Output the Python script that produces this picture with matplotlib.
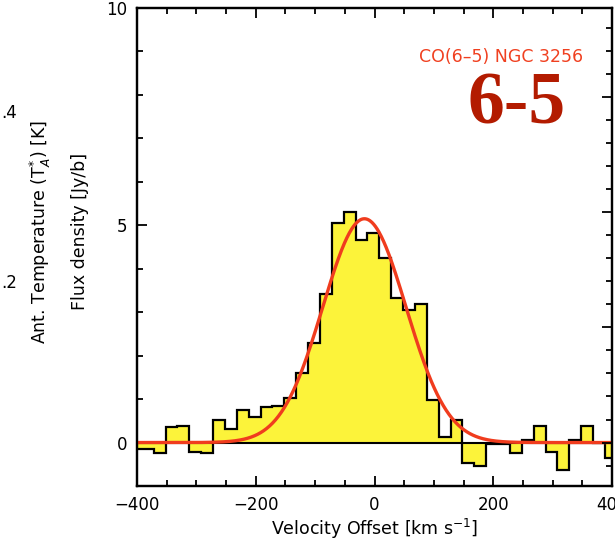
import numpy as np
import matplotlib
matplotlib.use("Agg")
import matplotlib.pyplot as plt
from matplotlib.ticker import MultipleLocator

# ---- data ----
bin_centers = np.arange(-402, 399, 20)  # km/s
flux = [-0.14, -0.14, -0.23, 0.36, 0.38, -0.22, -0.24, 0.53, 0.32, 0.76,
        0.58, 0.81, 0.85, 1.03, 1.60, 2.28, 3.41, 5.06, 5.30, 4.66,
        4.83, 4.25, 3.32, 3.04, 3.19, 0.97, 0.12, 0.52, -0.48, -0.54,
        -0.04, -0.04, -0.25, 0.07, 0.39, -0.22, -0.64, 0.07, 0.39, -0.02,
        -0.36]
fit_amp = 5.15
fit_center = -17.0
fit_sigma = 70.0
xticks = [-400, -200, 0, 200, 400]
yticks = [0, 5, 10]
line_label = "CO(6\u20135) NGC 3256"
big_label = "6-5"

edges = np.concatenate([bin_centers - 10, [bin_centers[-1] + 10]])

fig = plt.figure(figsize=(6.15, 5.42), dpi=100)
ax = fig.add_axes([137/615, 1 - 486/542, 475/615, 478/542])

ax.stairs(flux, edges, fill=True, baseline=0, color="#fcf33a", zorder=1)
ax.stairs(flux, edges, fill=False, baseline=None, color="black", lw=1.6, zorder=2)
ax.axhline(0, color="black", lw=1.5, zorder=2)

v = np.linspace(-400, 400, 800)
g = fit_amp * np.exp(-0.5 * ((v - fit_center) / fit_sigma) ** 2)
ax.plot(v, g, color="#f03c1e", lw=2.4, zorder=3)

ax.set_xlim(-400, 400)
ax.set_ylim(-1, 10)
ax.set_xticks(xticks)
ax.set_xticklabels(["\u2212400", "\u2212200", "0", "200", "400"])
ax.set_yticks(yticks)
ax.xaxis.set_minor_locator(MultipleLocator(50))
ax.yaxis.set_minor_locator(MultipleLocator(1))
ax.tick_params(which="both", direction="in", top=True, right=False, width=1.3,
               labelsize=12, pad=7)
ax.tick_params(which="major", length=7)
ax.tick_params(which="minor", length=4)
for s in ax.spines.values():
    s.set_linewidth(1.6)

# temperature axis on right
c = 0.1 / 2.65
ax2 = ax.twinx()
ax2.set_ylim(-1 * c, 10 * c)
ax2.yaxis.set_major_locator(MultipleLocator(0.1))
ax2.yaxis.set_minor_locator(MultipleLocator(0.02))
ax2.tick_params(which="both", direction="in", width=1.3, labelright=False)
ax2.tick_params(which="major", length=7)
ax2.tick_params(which="minor", length=4)
for s in ax2.spines.values():
    s.set_linewidth(1.6)

ax.set_xlabel("Velocity Offset [km s$^{-1}$]", fontsize=12.5, labelpad=2)

fig.text(80/615, 1 - 231/542, "Flux density [Jy/b]", rotation=90,
         ha="center", va="center", fontsize=12.5)
fig.text(40/615, 1 - 232/542, "Ant. Temperature (T$_A^{*}$) [K]", rotation=90,
         ha="center", va="center", fontsize=12.5)
fig.text(1/615, 1 - 113/542, ".4", ha="left", va="center", fontsize=12)
fig.text(1/615, 1 - 283/542, ".2", ha="left", va="center", fontsize=12)

fig.text(501/615, 1 - 57/542, line_label, fontsize=12.5, color="#f04020",
         ha="center", va="center")
fig.text(517/615, 1 - 106/542, big_label, ha="center", va="center",
         fontsize=53, fontweight="bold", family="Liberation Serif",
         color="#b31b00")

fig.savefig("out.png", dpi=100)
